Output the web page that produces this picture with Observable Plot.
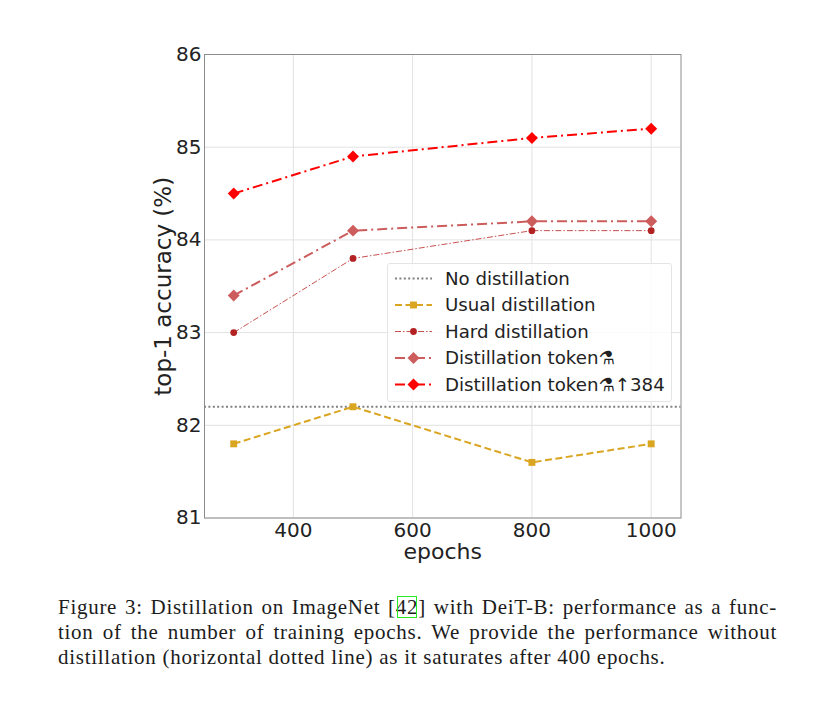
<!DOCTYPE html>
<html>
<head>
<meta charset="utf-8">
<script src="https://cdn.jsdelivr.net/npm/d3@7"></script>
<script src="https://cdn.jsdelivr.net/npm/@observablehq/plot@0.6"></script>
<style>
html,body{margin:0;padding:0;background:#fff;}
#wrap{position:relative;width:831px;height:705px;overflow:hidden;}
#chart{position:absolute;left:0;top:0;}
#legend{position:absolute;left:387px;top:263px;width:285px;height:139px;box-sizing:border-box;background:rgba(255,255,255,.82);border:1px solid #e4e4e4;border-radius:3px;}
#legend svg{position:absolute;left:0;top:0;}
#caption{position:absolute;left:58px;top:595px;width:719px;font:21px/24.8px "Liberation Serif",serif;letter-spacing:.72px;color:#1c1c1c;}
#caption div{text-align:justify;text-align-last:justify;height:24.8px;white-space:nowrap;}
#caption div:last-child{text-align-last:left;}
#caption .cite{outline:1.6px solid #22ee22;outline-offset:-2px;}
</style>
</head>
<body>
<div id="wrap">
<div id="chart"></div>
<div id="legend"></div>
<div id="caption">
<div>Figure 3: Distillation on ImageNet [<span class="cite">42</span>] with DeiT-B: performance as a func-</div>
<div>tion of the number of training epochs. We provide the performance without</div>
<div>distillation (horizontal dotted line) as it saturates after 400 epochs.</div>
</div>
</div>
<script>
const epochs = [300, 500, 800, 1000];
const usual = [81.8, 82.2, 81.6, 81.8];
const hard = [83.0, 83.8, 84.1, 84.1];
const token = [83.4, 84.1, 84.2, 84.2];
const token384 = [84.5, 84.9, 85.1, 85.2];
const noDistillation = 82.2;
const xTicks = [400, 600, 800, 1000];
const yTicks = [81, 82, 83, 84, 85, 86];

const series = [
  {name: "Usual distillation", values: usual, color: "#DAA520", dash: "7,3.5", width: 2, symbol: "square2", r: 4.4},
  {name: "Hard distillation", values: hard, color: "#B22222", dash: "6,2,1.5,2", width: 1, symbol: "circle", r: 3.4, lineColor: "#C8504F"},
  {name: "Distillation token\u2697", values: token, color: "#CD5C5C", dash: "10,4,2,4", width: 2, symbol: "diamond2", r: 5.4},
  {name: "Distillation token\u2697\u2191384", values: token384, color: "#FF0000", dash: "10,4,2,4", width: 2, symbol: "diamond2", r: 5.4}
];

const rows = series.flatMap(s => epochs.map((e, i) => ({epoch: e, acc: s.values[i], name: s.name})));
const lineMarks = series.flatMap(s => {
  const d = rows.filter(r => r.name === s.name);
  return [
    Plot.line(d, {x: "epoch", y: "acc", stroke: s.lineColor || s.color, strokeWidth: s.width, strokeDasharray: s.dash, strokeLinecap: "butt"}),
    Plot.dot(d, {x: "epoch", y: "acc", fill: s.color, stroke: "none", symbol: () => s.symbol, r: s.r})
  ];
});

const chart = Plot.plot({
  width: 831, height: 590,
  marginLeft: 204, marginRight: 150.5, marginTop: 54, marginBottom: 72.5,
  style: {background: "transparent", fontFamily: "'DejaVu Sans',sans-serif", color: "#222"},
  x: {domain: [251, 1050]},
  y: {domain: [81, 86]},
  marks: [
    Plot.gridX(xTicks, {stroke: "#e2e2e2", strokeOpacity: 1}),
    Plot.gridY(yTicks, {stroke: "#e2e2e2", strokeOpacity: 1}),
    Plot.ruleY([noDistillation], {stroke: "#808080", strokeWidth: 1.8, strokeDasharray: "2,2.4"}),
    ...lineMarks,
    Plot.frame({stroke: "#8c8c8c", strokeWidth: 1}),
    Plot.axisX(xTicks, {tickSize: 0, tickPadding: 5, fontSize: 20, label: null, tickFormat: d => String(d)}),
    Plot.axisY(yTicks, {tickSize: 0, tickPadding: 3, fontSize: 20, label: null, tickFormat: d => String(d)}),
    Plot.text(["epochs"], {frameAnchor: "bottom", dy: 41, fontSize: 22, fill: "#222"}),
    Plot.text(["top-1 accuracy (%)"], {frameAnchor: "left", rotate: -90, textAnchor: "middle", lineAnchor: "middle", dx: -41, fontSize: 23, fill: "#222"})
  ]
});
document.getElementById("chart").appendChild(chart);

// Legend swatches
const items = [{name: "No distillation", color: "#808080", dash: "2,2.4", width: 1.8}, ...series];
const svg = d3.select("#legend").append("svg").attr("width", 285).attr("height", 139);
const symbolOf = {"square2": d3.symbolSquare2, "circle": d3.symbolCircle, "diamond2": d3.symbolDiamond2};
items.forEach((it, i) => {
  const y = 14.5 + i * 26.5;
  svg.append("line").attr("x1", 7).attr("x2", 44).attr("y1", y).attr("y2", y)
    .attr("stroke", it.lineColor || it.color).attr("stroke-width", it.width).attr("stroke-dasharray", it.dash);
  if (it.symbol) {
    const r = it.r;
    svg.append("path").attr("transform", `translate(25.5,${y})`)
      .attr("d", d3.symbol(symbolOf[it.symbol], Math.PI * r * r)())
      .attr("fill", it.color);
  }
  svg.append("text").attr("x", 57).attr("y", y).attr("dy", "0.35em")
    .attr("font-family", "'DejaVu Sans',sans-serif").attr("font-size", 18.2).attr("fill", "#222")
    .text(it.name);
});
</script>
</body>
</html>
